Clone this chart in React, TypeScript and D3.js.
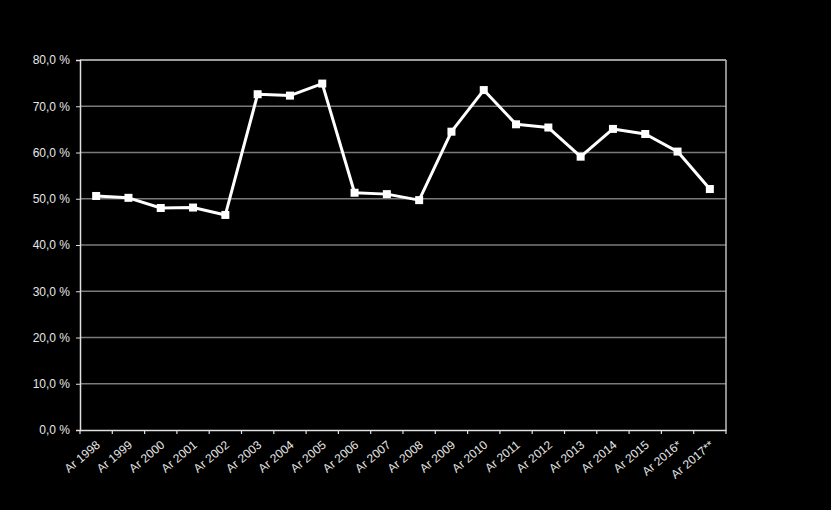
import * as d3 from "d3";
import { useEffect, useRef } from "react";

const years = [
  "Ar 1998", "Ar 1999", "Ar 2000", "Ar 2001", "Ar 2002", "Ar 2003", "Ar 2004",
  "Ar 2005", "Ar 2006", "Ar 2007", "Ar 2008", "Ar 2009", "Ar 2010", "Ar 2011",
  "Ar 2012", "Ar 2013", "Ar 2014", "Ar 2015", "Ar 2016*", "Ar 2017**",
];
const values = [
  50.6, 50.2, 48.0, 48.1, 46.5, 72.6, 72.3, 74.9, 51.3, 51.0, 49.7, 64.5, 73.5,
  66.1, 65.4, 59.1, 65.1, 64.0, 60.2, 52.1,
];
const yTicks = [0, 10, 20, 30, 40, 50, 60, 70, 80];

export default function App() {
  const svgRef = useRef<SVGSVGElement>(null);
  const width = 831;
  const height = 510;
  const marginLeft = 80;
  const marginRight = 105;
  const marginTop = 60;
  const marginBottom = 80;

  useEffect(() => {
    document.body.style.margin = "0";
    document.body.style.background = "#000";
    if (!svgRef.current) return;

    const x = d3
      .scaleBand<string>()
      .domain(years)
      .range([marginLeft, width - marginRight]);
    const y = d3
      .scaleLinear()
      .domain([0, 80])
      .range([height - marginBottom, marginTop]);

    const font = "'Liberation Sans', Arial, sans-serif";

    const svg = d3
      .select(svgRef.current)
      .attr("width", width)
      .attr("height", height)
      .attr("viewBox", [0, 0, width, height])
      .style("display", "block")
      .style("background", "#000")
      .style("font-family", font);

    // gridlines
    svg
      .append("g")
      .selectAll("line")
      .data(yTicks.filter((t) => t > 0))
      .join("line")
      .attr("x1", marginLeft)
      .attr("x2", width - marginRight)
      .attr("y1", (d) => y(d))
      .attr("y2", (d) => y(d))
      .attr("stroke", (d) => (d === 80 ? "#d0d0d0" : "#7a7a7a"))
      .attr("stroke-width", 1.5);

    // right border
    svg
      .append("line")
      .attr("x1", width - marginRight)
      .attr("x2", width - marginRight)
      .attr("y1", y(80))
      .attr("y2", y(0))
      .attr("stroke", "#bdbdbd")
      .attr("stroke-width", 1.5);

    // y axis
    const yAxis = d3
      .axisLeft(y)
      .tickValues(yTicks)
      .tickSize(4)
      .tickPadding(6)
      .tickFormat((d) => `${(d as number).toFixed(1).replace(".", ",")} %`);
    svg
      .append("g")
      .attr("transform", `translate(${marginLeft},0)`)
      .call(yAxis)
      .call((g) => g.select(".domain").attr("stroke", "#e0e0e0").attr("stroke-width", 1.5))
      .call((g) => g.selectAll(".tick line").attr("stroke", "#e0e0e0"))
      .call((g) =>
        g
          .selectAll(".tick text")
          .attr("fill", "#e6e6e6")
          .attr("font-size", 12)
          .attr("font-family", font)
      );

    // x axis
    const step = x.step();
    const xAxis = d3.axisBottom(x).tickSize(0).tickSizeOuter(0);
    svg
      .append("g")
      .attr("transform", `translate(0,${y(0)})`)
      .call(xAxis)
      .call((g) => g.select(".domain").attr("stroke", "#e0e0e0").attr("stroke-width", 1.5))
      .call((g) =>
        g
          .selectAll(".tick text")
          .attr("fill", "#e6e6e6")
          .attr("font-size", 12)
          .attr("font-family", font)
          .attr("text-anchor", "end")
          .attr("y", 0)
          .attr("dy", "0.35em")
          .attr("transform", "translate(2,13) rotate(-40)")
      );

    // category boundary ticks
    svg
      .append("g")
      .selectAll("line")
      .data(d3.range(years.length + 1))
      .join("line")
      .attr("x1", (i) => marginLeft + i * step)
      .attr("x2", (i) => marginLeft + i * step)
      .attr("y1", y(0))
      .attr("y2", y(0) + 4)
      .attr("stroke", "#e0e0e0")
      .attr("stroke-width", 1.2);

    const cx = (i: number) => (x(years[i]) ?? 0) + x.bandwidth() / 2;

    const line = d3
      .line<number>()
      .x((_, i) => cx(i))
      .y((d) => y(d));

    svg
      .append("path")
      .datum(values)
      .attr("fill", "none")
      .attr("stroke", "#fff")
      .attr("stroke-width", 3)
      .attr("stroke-linejoin", "round")
      .attr("d", line);

    svg
      .append("g")
      .attr("fill", "#fff")
      .selectAll("rect")
      .data(values)
      .join("rect")
      .attr("x", (_, i) => cx(i) - 4)
      .attr("y", (d) => y(d) - 4)
      .attr("width", 8)
      .attr("height", 8);

    return () => {
      d3.select(svgRef.current).selectAll("*").remove();
    };
  }, []);

  return <svg ref={svgRef} />;
}
